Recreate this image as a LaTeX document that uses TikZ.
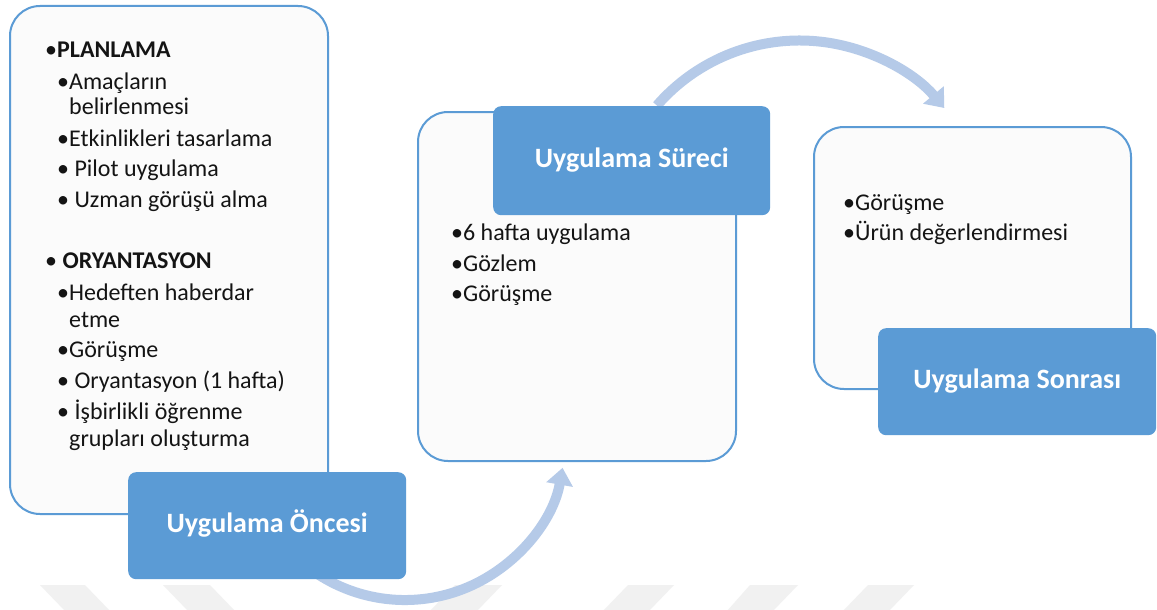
\documentclass[tikz,border=0pt]{standalone}
\usepackage{fontspec}
\setmainfont{Carlito}
\usetikzlibrary{arrows.meta}
\definecolor{boxblue}{HTML}{5B9BD5}
\definecolor{arrowblue}{HTML}{B5CAE8}
\definecolor{panelfill}{HTML}{FBFBFB}
\definecolor{wmgray}{HTML}{F1F1F1}
\definecolor{itemtext}{HTML}{141414}
\begin{document}
\begin{tikzpicture}[x=1pt,y=-1pt,
  panel/.style={draw=boxblue, line width=2pt, fill=panelfill, rounded corners=30pt, anchor=north west, inner sep=0pt},
  titlebox/.style={fill=boxblue, rounded corners=8pt, anchor=north west, inner sep=0pt,
    text=white, font=\fontsize{28}{28}\selectfont\bfseries, text height=19pt, text depth=5pt},
  item/.style={font=\fontsize{24}{25}\selectfont, inner sep=0pt, anchor=base west, text=itemtext},
  flow/.style={draw=arrowblue, line width=10pt, -{Triangle[width=26pt,length=17pt]}},
  wmark/.style={fill=wmgray, draw=none}
]
\useasboundingbox (0,0) rectangle (1157,610);
\fill[white] (0,0) rectangle (1157,610);

% faint watermark stripes
\fill[wmark] (40,585) -- (85,585) -- (110,611) -- (65,611) -- cycle;
\fill[wmark] (163,585) -- (210,585) -- (235,611) -- (188,611) -- cycle;
\fill[wmark] (455,585) -- (502,585) -- (477,611) -- (430,611) -- cycle;
\fill[wmark] (628,585) -- (674,585) -- (649,611) -- (603,611) -- cycle;
\fill[wmark] (750,585) -- (798,585) -- (773,611) -- (727,611) -- cycle;
\fill[wmark] (868,585) -- (914,585) -- (889,611) -- (843,611) -- cycle;

% curved flow arrows
\coordinate (a1start) at (313.2,571.1);
\coordinate (a2start) at (656.9,105.5);
\draw[flow] (a1start) arc[start angle=125, end angle=10, radius=160];
\draw[flow] (a2start) arc[start angle=-139, end angle=-40, radius=189];

% panels
\node[panel, minimum width=318pt, minimum height=508pt] (prepanel) at (9,5) {};
\node[panel, minimum width=318pt, minimum height=349pt] (procpanel) at (417,111) {};
\node[panel, minimum width=317pt, minimum height=262pt] (postpanel) at (813,126) {};

% title boxes
\node[titlebox, minimum width=278pt, minimum height=107pt] (pretitle) at (128,472) {Uygulama Öncesi};
\node[titlebox, minimum width=277pt, minimum height=109pt] (proctitle) at (493,106) {Uygulama Süreci};
\node[titlebox, minimum width=278pt, minimum height=107pt] (posttitle) at (878,328) {Uygulama Sonrası};

% left panel items
\node[item] (l1) at (45,58) {•\textbf{PLANLAMA}};
\node[item] (l2) at (57,89) {•Amaçların};
\node[item] (l2b) at (69,114) {belirlenmesi};
\node[item] (l3) at (57,146) {•Etkinlikleri tasarlama};
\node[item] (l4) at (57,176) {• Pilot uygulama};
\node[item] (l5) at (57,207) {• Uzman görüşü alma};
\node[item] (l6) at (45,268) {• \textbf{ORYANTASYON}};
\node[item] (l7) at (57,300) {•Hedeften haberdar};
\node[item] (l7b) at (69,327) {etme};
\node[item] (l8) at (57,357) {•Görüşme};
\node[item] (l9) at (57,388) {• Oryantasyon (1 hafta)};
\node[item] (l10) at (57,419) {• İşbirlikli öğrenme};
\node[item] (l10b) at (69,446) {grupları oluşturma};

% middle panel items
\node[item] (m1) at (451,240) {•6 hafta uygulama};
\node[item] (m2) at (451,271) {•Gözlem};
\node[item] (m3) at (451,301) {•Görüşme};

% right panel items
\node[item] (r1) at (843,210) {•Görüşme};
\node[item] (r2) at (843,240) {•Ürün değerlendirmesi};
\end{tikzpicture}
\end{document}
